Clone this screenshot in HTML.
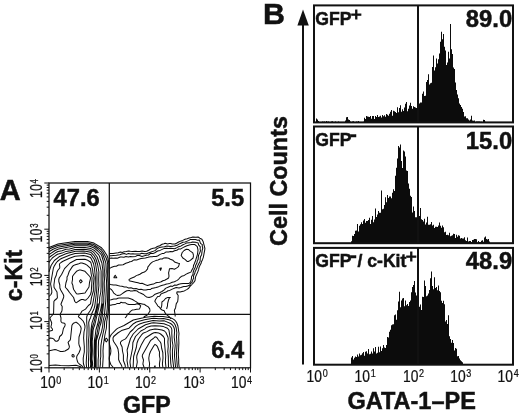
<!DOCTYPE html>
<html lang="en"><head><meta charset="utf-8"><title>Figure</title>
<style>
html,body{margin:0;padding:0;background:#fff;}
svg{display:block;}
text{font-family:"Liberation Sans", Arial, Helvetica, sans-serif;fill:#111;stroke:#111;stroke-width:0.5px;}
.b{font-weight:700;}
.n{font-weight:400;stroke-width:0.25px;}
</style></head>
<body>
<svg width="520" height="413" viewBox="0 0 520 413">
<rect x="0" y="0" width="520" height="413" fill="#ffffff"/>
<g id="panelA">
<path d="M49.0 247.5L58.0 244.1L59.5 243.8L75.0 241.5L87.5 241.5L94.0 243.1L101.5 247.8L103.5 250.0L107.0 255.5L108.0 258.3L108.9 264.0L109.2 283.0L108.6 308.0L108.2 313.0L106.7 321.5L106.4 328.0L104.8 335.5L103.3 346.0L103.0 351.0L103.2 356.5L102.6 367.5M113.3 367.5L110.8 364.5L109.5 361.0L109.2 359.0L109.3 357.0L110.6 353.5L110.9 351.0L110.7 349.0L109.4 344.0L109.3 340.0L109.9 337.0L111.3 334.5L116.0 329.6L117.5 328.4L124.0 325.5L133.3 320.0L145.5 317.2L154.5 316.3L158.5 316.6L163.0 316.5L170.5 317.7L172.5 318.6L174.5 319.9L175.9 321.5L176.8 323.0L177.9 326.0L179.0 333.5L178.7 337.0L178.9 343.0L178.3 354.5L178.7 359.5L178.7 363.5L179.2 367.5M49.0 249.2L52.0 247.8L58.0 245.6L59.5 245.3L75.0 242.9L87.5 242.9L94.0 244.6L100.5 249.1L101.5 250.0L103.0 252.0L106.2 258.0L107.3 261.5L107.7 264.5L107.6 275.5L108.0 283.0L107.3 308.0L106.5 315.3L104.7 321.5L104.3 327.5L101.8 339.5L100.9 345.5L100.7 351.5L100.8 356.5L100.3 360.0L100.4 364.0L100.0 367.5M122.1 367.5L121.6 365.5L119.6 362.0L118.6 359.5L118.7 354.0L118.0 349.0L116.9 346.5L113.6 341.5L113.1 340.0L113.0 338.0L113.7 336.5L117.8 333.0L121.5 330.6L129.0 328.2L133.5 323.7L136.3 322.0L144.5 319.7L151.5 318.4L153.5 318.3L159.0 318.7L163.5 318.5L169.0 319.8L171.0 320.6L172.5 321.6L174.0 323.1L175.2 325.0L176.2 328.0L176.8 332.5L176.5 337.0L177.0 344.5L176.4 355.0L177.4 367.5M49.0 251.7L53.0 249.3L59.0 246.9L75.0 244.3L87.0 244.3L91.0 245.1L94.6 246.5L98.0 249.0L101.5 252.4L103.0 255.0L105.4 261.5L105.9 263.5L106.3 271.5L106.0 275.5L106.5 280.5L106.3 289.0L105.7 301.5L104.3 316.0L103.2 320.5L102.6 326.5L101.5 331.9L98.6 340.5L98.3 347.0L98.5 356.0L98.1 360.0L98.1 367.5M125.4 367.5L125.1 365.0L123.4 360.5L123.4 355.0L122.5 351.0L122.1 347.0L120.4 343.5L120.6 342.0L122.0 340.6L125.5 338.9L127.5 336.3L130.2 332.0L133.0 329.5L135.5 326.7L137.5 325.1L139.6 324.0L144.0 322.5L153.0 320.4L159.5 321.0L163.5 320.8L165.0 321.1L170.7 323.5L172.5 325.1L173.7 327.0L174.4 329.0L174.6 331.0L174.2 337.0L175.2 345.5L174.6 351.5L174.5 356.0L175.6 367.5M49.0 254.6L55.1 250.5L58.5 249.0L75.0 245.8L85.0 245.7L87.0 245.8L90.5 246.6L94.0 247.9L97.8 251.0L100.7 254.0L101.7 255.5L103.7 262.5L104.4 270.5L104.2 275.0L104.5 279.5L104.2 283.5L104.4 289.5L103.8 297.0L103.8 301.5L102.2 316.5L101.1 322.5L99.8 326.5L98.5 333.5L96.4 340.5L96.1 353.0L96.2 367.5M128.1 367.5L127.0 360.5L127.6 354.5L127.1 350.0L130.5 338.5L133.2 334.0L138.1 329.0L145.5 324.7L151.5 323.1L153.5 322.8L164.0 323.7L169.5 325.9L170.5 326.8L171.4 328.0L171.9 330.0L171.8 333.5L172.2 341.0L173.0 345.5L172.4 351.0L172.5 358.0L173.7 367.5M49.0 257.5L55.5 252.8L58.0 251.5L62.0 250.7L66.0 249.3L69.5 248.9L75.0 247.5L76.5 247.5L85.0 247.5L91.0 248.6L93.5 249.9L95.0 251.0L98.5 254.6L99.6 256.5L100.3 259.0L101.9 263.0L102.9 270.5L102.7 291.0L102.0 297.5L102.0 302.0L101.1 307.5L98.7 318.5L98.2 322.0L95.9 330.0L95.2 336.0L94.4 340.0L94.0 354.5L94.5 363.5L94.1 367.5M130.7 367.5L130.0 362.5L130.1 360.5L132.6 348.0L132.9 342.5L135.5 336.5L140.8 331.0L144.5 329.1L147.0 327.2L151.0 326.0L155.0 325.7L160.0 325.9L163.5 326.6L167.5 328.3L168.9 330.0L170.2 338.0L170.5 346.5L170.1 351.5L170.8 363.5L171.4 367.5M49.0 262.6L50.2 260.5L52.3 258.0L54.0 256.6L57.5 254.3L62.0 253.1L66.0 251.4L70.5 250.7L75.0 249.4L84.5 249.3L90.5 250.3L92.5 251.4L94.0 252.7L97.2 257.0L99.6 264.0L101.1 271.0L101.1 287.0L100.8 292.0L99.7 297.5L99.6 301.5L98.9 307.0L94.9 324.5L93.5 328.3L93.0 331.0L92.8 336.0L92.2 341.5L92.4 350.5L92.0 359.0L92.7 363.5L92.1 367.5M133.1 367.5L133.6 356.5L136.3 347.5L137.0 343.0L138.3 339.5L142.0 334.3L143.0 333.3L146.5 331.9L150.0 330.0L155.0 329.1L157.5 329.3L162.0 330.1L164.5 331.0L165.9 332.5L167.9 337.0L168.2 338.5L167.9 342.0L168.2 346.5L167.8 351.5L168.3 356.5L168.5 367.5M49.0 271.8L51.1 265.5L54.4 260.5L59.0 256.8L65.3 254.0L67.5 253.3L75.5 251.2L83.5 251.0L87.0 251.4L90.5 252.2L91.5 252.9L94.3 256.0L95.9 259.0L97.6 264.5L98.9 272.0L98.7 279.5L98.9 285.5L96.8 306.5L94.5 315.5L92.0 322.9L91.1 329.0L90.4 341.0L90.7 350.5L90.3 359.5L90.7 364.0L90.4 367.5M136.3 367.5L137.3 362.0L136.7 357.5L136.9 355.5L137.6 353.5L141.5 344.4L144.3 339.5L145.5 338.0L152.3 333.5L154.0 332.7L155.5 332.5L158.5 332.9L160.6 334.0L163.4 336.5L164.5 338.5L164.5 343.0L165.7 356.0L165.4 362.0L166.0 367.5M49.0 296.5L51.0 294.5L51.8 292.5L51.8 290.5L50.6 284.0L53.4 268.0L54.0 266.6L56.1 263.0L57.3 261.5L60.0 259.3L62.0 258.2L70.0 255.0L75.0 253.5L84.5 253.0L90.5 254.5L91.0 254.9L94.2 259.5L95.6 264.0L96.9 272.5L97.0 284.0L96.6 291.5L94.8 306.0L94.0 308.7L92.0 313.0L90.5 317.9L89.4 320.0L88.7 322.5L89.0 327.5L89.0 335.0L88.6 340.0L88.9 350.5L88.4 362.0L88.6 367.5M144.1 367.5L142.9 364.0L143.5 360.0L142.3 356.5L142.4 355.0L150.0 341.4L151.0 340.2L153.3 338.5L155.0 336.8L156.0 337.0L157.0 337.7L158.5 340.0L160.3 342.0L161.0 343.5L161.7 348.5L162.8 352.5L163.0 358.0L162.4 364.0L162.9 367.5M49.0 331.4L50.0 330.9L52.0 330.6L52.6 330.0L52.4 329.0L50.9 327.0L51.7 323.5L51.6 322.5L49.9 318.5L50.2 317.5L53.0 314.5L53.6 313.0L53.9 301.5L54.5 300.5L56.9 298.5L57.4 297.5L57.0 292.0L54.1 287.5L53.9 285.0L54.8 278.5L56.2 275.5L57.0 271.9L57.7 270.5L59.7 268.0L59.8 267.0L59.4 264.0L61.0 262.5L63.0 261.3L69.5 258.2L75.0 256.3L83.5 255.5L87.0 256.3L90.5 257.6L91.4 259.0L93.5 263.5L94.5 268.5L95.4 277.5L95.1 290.5L92.6 305.0L90.5 310.2L87.5 314.5L86.7 317.0L86.7 322.5L87.1 327.0L86.7 339.0L86.9 351.0L86.2 363.0L86.6 367.5M149.2 367.5L149.6 363.5L149.0 360.5L148.8 358.0L149.4 354.5L150.5 351.5L154.0 345.5L155.0 344.4L156.5 345.4L157.5 346.7L159.5 352.0L159.4 355.5L160.1 359.0L159.4 364.0L159.7 367.5M49.0 338.6L50.5 338.1L53.0 338.6L54.0 339.2L55.0 340.7L56.0 341.3L57.0 341.2L58.2 340.5L58.9 339.5L59.7 336.5L61.5 335.0L62.4 333.5L63.4 328.5L64.9 326.0L65.1 325.0L65.1 324.0L64.5 323.2L62.0 322.7L61.3 322.0L60.9 321.0L61.0 318.0L60.2 315.0L60.3 314.0L61.9 311.0L62.1 309.5L62.2 306.5L61.0 304.5L61.0 304.0L63.6 297.5L63.8 296.0L63.3 294.5L60.7 290.0L59.9 288.0L59.8 285.0L58.8 281.5L58.8 279.5L59.2 278.0L61.6 274.5L64.5 268.6L70.0 263.0L76.5 259.5L85.0 259.3L87.0 259.9L90.5 262.0L91.0 263.0L92.6 269.5L93.0 273.5L93.9 277.0L94.0 278.5L93.3 286.0L93.4 291.0L91.5 297.3L90.5 303.9L88.4 305.5L85.5 309.1L82.0 311.1L80.5 313.8L78.5 316.0L78.4 316.5L79.1 317.5L80.5 318.4L83.1 321.0L84.0 322.7L85.0 326.0L84.9 328.0L84.0 332.0L83.6 338.0L84.3 346.5L84.3 352.0L83.3 357.5L83.2 359.5L83.4 363.5L84.6 367.5M154.1 367.5L155.0 365.8L155.4 367.5M76.5 302.7L76.0 302.7L74.8 301.5L73.6 297.5L69.5 292.5L67.5 289.6L65.6 287.5L65.3 287.0L65.9 283.0L67.0 279.5L67.0 277.0L68.0 275.2L69.2 271.5L72.5 266.4L73.5 265.5L74.5 265.1L78.0 264.1L80.5 263.0L82.0 263.0L85.0 264.0L87.0 265.1L90.5 268.4L91.2 274.0L92.1 278.0L91.3 291.5L90.5 294.5L88.0 298.0L86.0 300.0L85.0 300.3L83.0 299.6L81.5 299.5L80.3 300.0L76.5 302.7M49.0 351.0L50.5 350.4L55.0 349.6L57.0 350.1L60.5 351.5L62.5 351.5L65.0 351.0L68.4 349.0L69.1 348.0L69.4 346.5L68.1 342.5L68.5 341.7L70.0 340.4L70.5 339.0L71.9 325.5L72.5 324.3L73.5 323.2L76.0 322.1L78.0 323.5L79.5 325.0L80.6 326.5L81.2 328.5L80.5 332.3L79.0 337.0L78.8 343.5L79.2 345.5L80.3 348.0L80.3 349.5L79.0 352.8L76.9 356.0L76.6 358.0L77.3 361.0L77.9 362.5L79.3 364.0L82.0 365.9L83.0 367.5M73.9 357.0L74.2 356.5L74.0 355.3L73.5 354.7L72.5 354.5L72.0 355.0L72.0 356.2L73.0 357.1L73.9 357.0M78.0 294.0L76.5 293.8L73.7 289.5L73.0 287.0L72.9 285.5L71.9 283.0L72.5 279.5L72.5 276.5L73.4 275.0L76.5 271.3L79.0 270.1L80.5 269.9L85.0 271.3L89.8 276.5L90.4 277.5L90.5 278.7L89.5 282.5L89.0 287.0L85.0 293.0L78.0 294.0M49.0 365.6L55.5 365.0L60.5 365.6L68.5 365.7L76.0 365.2L80.0 366.4L81.3 367.5M102.6 303.5L101.4 313.0L99.9 321.5L98.5 325.5L96.7 335.5L95.4 340.5L95.1 353.5L95.3 363.0L95.2 367.5M98.2 303.5L97.7 307.0L94.0 322.3L92.5 327.0L92.0 330.0L91.3 341.5L91.6 350.5L91.2 359.5L91.7 364.0L91.3 367.5M109.3 253.5L111.2 253.5L113.1 253.4L116.2 253.0L118.2 252.8L120.6 252.0L122.2 252.4L124.1 251.8L126.3 251.6L128.6 251.0L130.3 251.2L132.7 251.4L135.4 251.3L137.8 251.4L139.8 251.5L142.1 251.1L144.6 251.4L146.7 251.2L148.7 250.3L150.8 249.0L153.1 248.3L155.0 248.1L157.3 246.5L159.7 245.7L162.1 244.2L164.0 243.7L165.2 243.2L167.6 243.9L169.4 243.6L170.7 243.6L172.1 244.0L175.0 244.0L176.5 243.3L178.7 242.0L181.2 240.9L182.8 240.4L185.0 239.3L187.2 238.7L189.1 238.0L191.3 237.6L192.9 237.1L195.9 237.3L198.1 237.0L199.8 238.2L201.9 239.2L203.1 241.5L203.6 243.3L204.2 245.6L204.9 248.4L204.7 250.1L204.2 252.7L203.8 254.8L203.3 257.3L202.5 259.7L201.6 261.4L201.0 263.6L199.9 265.5L198.9 267.9L198.7 269.4L197.7 272.1L196.8 274.1L195.8 276.2L195.4 278.0L195.0 280.6L193.9 282.3L192.3 284.0L191.5 285.0L190.0 286.4L188.7 288.3L186.7 289.6L184.3 290.9L182.0 291.4L180.1 291.9L178.0 291.7L176.9 292.0L176.8 293.4L178.2 295.5L178.1 296.5L178.0 298.9L177.7 301.5L176.3 303.6L176.0 305.2L175.6 307.7L174.4 310.3L174.7 312.3L175.1 314.6L175.2 316.5M109.3 255.7L111.1 255.7L113.3 255.4L116.5 255.3L118.1 254.9L119.8 254.7L121.7 254.1L124.4 253.5L126.4 254.4L128.4 253.5L130.6 254.1L132.9 253.8L134.6 253.9L137.4 254.1L140.1 253.9L141.7 253.3L144.2 253.7L146.4 253.7L149.0 252.8L151.2 252.0L152.5 251.6L155.4 250.4L157.1 248.5L159.3 247.6L162.3 247.1L164.4 246.8L166.9 246.1L168.9 246.2L170.5 246.5L172.7 246.2L174.4 246.1L177.1 245.3L178.9 244.1L180.9 243.2L182.9 242.3L185.1 242.0L186.7 241.4L188.9 240.4L190.5 239.4L193.2 239.5L195.6 239.5L197.6 240.2L199.4 240.1L200.5 243.3L202.3 244.6L202.2 246.1L202.8 248.0L202.1 250.6L201.9 252.7L201.6 254.7L200.4 257.1L200.2 259.3L200.1 261.3L198.9 263.4L197.9 265.4L196.9 268.0L196.0 270.1L195.1 271.7L194.8 273.3L193.5 276.1L193.7 278.3L192.9 279.6L192.0 282.3L190.2 283.8L190.0 285.1L187.7 285.9L185.9 286.6L183.7 286.6L180.8 287.5L179.0 287.9L176.2 287.6L174.9 288.0L172.2 289.1L169.8 290.4L168.0 290.8L166.0 292.1L163.3 293.0L161.1 293.9L159.6 296.2L157.7 296.5L155.7 299.2L154.8 301.2L155.4 302.3L156.8 304.3L157.9 306.1L159.3 307.0L160.8 309.1L162.1 310.0L164.2 310.8L164.8 312.4L166.0 314.2L167.7 315.6L169.1 316.5L171.0 319.0M109.3 258.5L111.3 258.0L113.3 258.3L116.0 258.1L117.3 258.2L120.3 257.0L121.7 257.0L123.9 257.3L125.9 256.6L128.4 257.1L130.3 256.6L132.4 256.7L135.7 256.4L137.2 255.5L139.4 255.4L142.0 256.4L144.4 255.8L146.2 255.2L148.5 255.0L150.6 253.4L152.9 253.6L154.8 252.7L157.6 251.0L160.0 250.4L161.7 249.6L163.8 248.6L166.4 248.3L168.6 248.5L170.5 248.3L172.9 248.6L174.7 248.8L176.9 247.6L178.5 246.8L181.1 245.9L183.0 244.7L184.4 244.1L186.5 243.1L189.2 242.7L191.1 242.4L192.5 242.0L195.5 242.2L196.3 242.5L198.2 243.1L198.6 244.9L200.3 246.9L200.1 249.0L200.5 250.8L199.6 253.0L198.6 255.1L198.3 257.1L198.2 259.3L197.2 261.4L196.9 263.1L195.6 265.6L195.2 267.5L193.9 269.9L193.1 272.5L192.9 274.5L191.6 276.5L191.4 278.6L190.8 281.5L189.7 282.9L188.4 283.6L185.6 283.6L183.1 283.6L180.9 283.8L178.8 284.2L176.6 285.3L174.7 285.0L172.4 286.4L170.9 286.0L168.6 287.0L165.4 288.4L164.6 289.6L161.9 291.5L159.9 292.5L157.7 293.2L155.1 294.2L153.1 295.9L151.5 296.7L149.1 297.6L146.5 296.9L145.1 295.9L143.6 294.5L140.9 293.3L138.8 292.4L137.2 291.1L134.8 290.4L132.3 291.1L130.4 291.1L129.3 290.4L126.8 290.8L124.6 292.0L122.3 293.7L120.5 294.9L117.6 295.5L116.1 294.9L113.8 293.2L112.6 291.0L111.2 289.4L109.3 288.3M109.3 268.5L111.1 267.6L113.7 266.6L114.8 266.3L116.3 266.2L118.5 265.0L120.8 265.0L123.1 264.7L125.8 263.3L128.3 262.6L129.7 261.8L131.6 261.5L133.1 260.4L134.0 259.8L136.6 259.9L139.3 259.1L141.1 258.6L143.0 258.2L145.4 257.9L148.0 257.3L150.3 256.7L152.1 256.7L153.5 256.5L156.2 256.5L158.0 255.7L160.2 254.4L162.0 253.6L164.0 253.4L166.1 251.9L168.6 252.1L170.7 251.4L172.5 251.8L174.5 250.7L176.8 250.3L178.5 249.0L180.8 248.9L183.4 247.4L185.2 246.5L186.9 245.8L190.2 244.8L191.9 244.5L194.4 244.5L195.2 244.8L197.3 246.6L198.0 250.1L197.7 252.8L197.3 254.9L196.7 256.8L195.9 259.5L195.4 261.0L194.3 263.7L193.5 265.5L193.3 267.4L191.9 270.1L190.9 272.1L188.0 273.3L186.2 274.1L184.3 275.4L181.6 276.3L180.0 277.5L178.6 279.3L176.7 280.6L174.4 281.7L172.2 282.3L169.8 283.4L167.9 283.8L165.7 284.2L164.5 284.7L162.4 285.3L160.2 285.9L157.9 287.1L156.0 287.6L154.0 288.0L151.4 288.6L150.5 289.5L148.0 289.5L146.0 289.9L143.6 290.0L141.1 289.3L138.8 289.5L136.1 288.6L133.6 288.8L131.0 287.8L128.6 288.0L126.7 287.1L124.3 287.0L122.0 286.3L119.7 286.0L117.8 285.6L115.9 285.0L113.5 284.9L110.4 284.4L109.3 284.0M128.8 280.3L129.2 279.4L131.2 278.3L134.3 277.1L135.9 275.9L138.1 274.9L139.9 274.2L142.2 272.7L144.4 272.0L145.7 271.1L147.6 268.9L147.8 267.1L149.6 264.7L151.3 262.9L152.6 261.9L155.8 260.6L158.0 259.9L160.2 259.1L162.2 259.0L163.6 258.1L166.0 257.7L168.6 258.3L170.3 259.2L173.0 260.3L175.1 262.3L178.3 263.2L179.5 263.4L178.5 266.7L176.4 268.1L174.4 269.2L172.1 268.6L169.5 268.7L169.2 270.3L168.6 272.9L169.0 276.1L168.6 278.0L166.9 279.0L164.7 280.2L162.9 280.7L161.2 281.8L159.5 282.3L157.0 282.5L155.3 283.1L153.5 284.1L152.0 284.3L149.9 284.7L147.4 285.5L146.2 285.1L144.3 284.2L142.1 283.3L140.2 283.4L138.1 282.8L135.4 282.2L132.3 281.5L129.9 281.1L128.8 280.3M193.5 255.4L193.1 258.0L190.3 260.4L188.3 261.5L187.1 261.4L185.0 259.4L182.8 258.0L181.2 255.4L182.2 252.5L184.1 250.5L186.3 249.3L188.6 249.6L190.0 250.8L192.8 252.8L193.5 255.4M109.3 300.0L111.2 299.7L113.8 298.9L116.3 298.9L117.9 298.3L119.4 298.1L122.2 298.1L124.2 297.9L126.2 297.9L128.2 298.1L130.5 298.8L132.5 299.5L134.7 300.9L136.4 301.9L138.3 303.3L140.1 303.4L143.2 304.3L144.4 304.3L145.9 305.5L148.3 306.9L149.7 308.9L150.0 311.0L148.1 314.1L147.0 315.2L144.5 316.4L143.5 317.5M109.3 305.0L110.7 305.3L112.5 304.7L115.0 304.6L116.9 303.6L119.6 303.6L121.0 302.2L122.5 302.7L125.2 302.7L127.3 304.1L128.9 304.6L131.0 304.5L133.2 304.4L135.0 304.5L136.9 303.8L139.3 304.4L140.7 305.8L140.1 307.5L139.5 308.9L136.7 309.3L134.4 309.8L132.2 310.1L130.1 311.6L129.6 312.8L127.5 314.2L126.5 316.3L125.0 318.0M160.5 309.0L161.5 306.9L161.8 305.0L161.9 302.0L163.7 300.7L165.5 298.5L167.9 297.4L170.4 297.4L169.3 298.0L168.4 300.5L167.6 303.6L167.5 305.9L167.0 307.5L166.6 309.0M113.6 277.8L115.2 275.2L116.8 277.8L113.6 277.8M159.6 268.2L160.6 270.4L161.4 268.0L159.6 268.2M104.8 340.0L106.3 338.2L107.9 340.0L106.3 341.9L104.8 340.0M79.3 281.3L80.7 279.7L82.2 281.3L80.7 283.0L79.3 281.3" fill="none" stroke="#0a0a0a" stroke-width="1.02" stroke-linejoin="round"/>
<text transform="translate(-0.20,199.90)" font-size="29.00" text-anchor="start" class="b">A</text>
<text transform="translate(22.30,301.20) rotate(-90)" font-size="23.20" text-anchor="start" class="b">c-Kit</text>
<text transform="translate(123.00,412.90)" font-size="23.20" text-anchor="start" class="b">GFP</text>
<rect x="49.0" y="183.0" width="201.5" height="184.8" fill="none" stroke="#111" stroke-width="1.25"/>
<path d="M109.3 183.0V367.8 M49.0 314.3H250.5" stroke="#111" stroke-width="1.25" fill="none"/>
<path d="M49.00 367.8v4.7M49.0 367.80h-4.7M64.16 367.8v2.3M49.0 353.89h-2.3M73.03 367.8v2.3M49.0 345.76h-2.3M79.33 367.8v2.3M49.0 339.98h-2.3M84.21 367.8v2.3M49.0 335.51h-2.3M88.20 367.8v2.3M49.0 331.85h-2.3M91.57 367.8v2.3M49.0 328.76h-2.3M94.49 367.8v2.3M49.0 326.08h-2.3M97.07 367.8v2.3M49.0 323.71h-2.3M99.38 367.8v4.7M49.0 321.60h-4.7M114.54 367.8v2.3M49.0 307.69h-2.3M123.41 367.8v2.3M49.0 299.56h-2.3M129.70 367.8v2.3M49.0 293.78h-2.3M134.59 367.8v2.3M49.0 289.31h-2.3M138.57 367.8v2.3M49.0 285.65h-2.3M141.95 367.8v2.3M49.0 282.56h-2.3M144.87 367.8v2.3M49.0 279.88h-2.3M147.44 367.8v2.3M49.0 277.51h-2.3M149.75 367.8v4.7M49.0 275.40h-4.7M164.91 367.8v2.3M49.0 261.49h-2.3M173.78 367.8v2.3M49.0 253.36h-2.3M180.08 367.8v2.3M49.0 247.58h-2.3M184.96 367.8v2.3M49.0 243.11h-2.3M188.95 367.8v2.3M49.0 239.45h-2.3M192.32 367.8v2.3M49.0 236.36h-2.3M195.24 367.8v2.3M49.0 233.68h-2.3M197.82 367.8v2.3M49.0 231.31h-2.3M200.12 367.8v4.7M49.0 229.20h-4.7M215.29 367.8v2.3M49.0 215.29h-2.3M224.16 367.8v2.3M49.0 207.16h-2.3M230.45 367.8v2.3M49.0 201.38h-2.3M235.34 367.8v2.3M49.0 196.91h-2.3M239.32 367.8v2.3M49.0 193.25h-2.3M242.70 367.8v2.3M49.0 190.16h-2.3M245.62 367.8v2.3M49.0 187.48h-2.3M248.19 367.8v2.3M49.0 185.11h-2.3M250.50 367.8v4.7M49.0 183.00h-4.7" stroke="#111" stroke-width="1" fill="none"/>
<text transform="translate(40.20,388.00) scale(0.850,1)" font-size="16.30" text-anchor="start" class="n">10<tspan font-size="10.6" dx="0.8" dy="-4.4">0</tspan></text>
<text transform="translate(87.60,388.00) scale(0.850,1)" font-size="16.30" text-anchor="start" class="n">10<tspan font-size="10.6" dx="0.8" dy="-4.4">1</tspan></text>
<text transform="translate(135.00,388.00) scale(0.850,1)" font-size="16.30" text-anchor="start" class="n">10<tspan font-size="10.6" dx="0.8" dy="-4.4">2</tspan></text>
<text transform="translate(183.40,388.00) scale(0.850,1)" font-size="16.30" text-anchor="start" class="n">10<tspan font-size="10.6" dx="0.8" dy="-4.4">3</tspan></text>
<text transform="translate(231.00,388.00) scale(0.850,1)" font-size="16.30" text-anchor="start" class="n">10<tspan font-size="10.6" dx="0.8" dy="-4.4">4</tspan></text>
<text transform="translate(42.00,373.00) rotate(-90) scale(0.740,1)" font-size="17.00" text-anchor="start" class="n">10<tspan font-size="10.6" dx="0.8" dy="-4.4">0</tspan></text>
<text transform="translate(42.00,330.00) rotate(-90) scale(0.740,1)" font-size="17.00" text-anchor="start" class="n">10<tspan font-size="10.6" dx="0.8" dy="-4.4">1</tspan></text>
<text transform="translate(42.00,286.30) rotate(-90) scale(0.740,1)" font-size="17.00" text-anchor="start" class="n">10<tspan font-size="10.6" dx="0.8" dy="-4.4">2</tspan></text>
<text transform="translate(42.00,242.40) rotate(-90) scale(0.740,1)" font-size="17.00" text-anchor="start" class="n">10<tspan font-size="10.6" dx="0.8" dy="-4.4">3</tspan></text>
<text transform="translate(42.00,198.00) rotate(-90) scale(0.740,1)" font-size="17.00" text-anchor="start" class="n">10<tspan font-size="10.6" dx="0.8" dy="-4.4">4</tspan></text>
<text transform="translate(53.60,205.90)" font-size="23.70" text-anchor="start" class="b">47.6</text>
<text transform="translate(211.20,205.90)" font-size="23.70" text-anchor="start" class="b">5.5</text>
<text transform="translate(211.20,358.40)" font-size="23.70" text-anchor="start" class="b">6.4</text>
</g>
<g id="panelB">
<text transform="translate(263.10,24.40)" font-size="30.40" text-anchor="start" class="b">B</text>
<text transform="translate(287.00,246.00) rotate(-90)" font-size="23.40" text-anchor="start" class="b">Cell Counts</text>
<text transform="translate(347.40,409.30)" font-size="23.50" text-anchor="start" class="b">GATA-1–PE</text>
<path d="M303 364.6V22" stroke="#111" stroke-width="2" fill="none"/>
<path d="M303 9.5L308.8 25.5H297.4Z" fill="#111"/>
<path d="M316.00 122.4V118.4h1.00V119.6h1.00V121.1h1.00V122.0h1.00V121.9h1.00V122.0h1.00V121.5h1.00V121.8h1.00V121.4h1.00V122.4M326.00 122.4V120.9h1.00V121.8h1.00V121.4h1.00V121.9h1.00V121.9h1.00V121.5h1.00V121.3h1.00V121.9h1.00V121.9h1.00V121.4h1.00V122.1h1.00V122.4h1.00V121.6h1.00V122.1h1.00V122.4M341.00 122.4V122.1h1.00V122.0h1.00V122.3h1.00V122.4h1.00V120.5h1.00V117.3h1.00V117.1h1.00V119.4h1.00V120.1h1.00V121.4h1.00V121.9h1.00V121.5h1.00V121.2h1.00V121.9h1.00V122.1h1.00V121.6h1.00V121.7h1.00V121.1h1.00V122.3h1.00V122.1h1.00V122.1h1.00V122.4M363.00 122.4V121.7h1.00V117.7h1.00V119.0h1.00V115.9h1.00V116.6h1.00V116.8h1.00V117.0h1.00V115.9h1.00V118.8h1.00V116.1h1.00V116.0h1.00V119.0h1.00V116.1h1.00V116.9h1.00V115.0h1.00V117.0h1.00V116.4h1.00V115.7h1.00V117.4h1.00V115.1h1.00V116.3h1.00V115.2h1.00V116.7h1.00V113.9h1.00V114.8h1.00V115.7h1.00V113.7h1.00V111.8h1.00V110.0h1.00V115.8h1.00V110.8h1.00V111.2h1.00V111.9h1.00V112.9h1.00V107.3h1.00V112.3h1.00V108.0h1.00V105.3h1.00V111.8h1.00V109.2h1.00V110.9h1.00V107.6h1.00V103.7h1.00V102.0h1.00V111.2h1.00V108.8h1.00V105.5h1.00V102.7h1.00V106.0h1.00V108.7h1.00V106.3h1.00V107.1h1.00V107.4h1.00V107.9h1.00V104.2h1.00V103.5h1.00V103.5h1.00V102.5h1.00V102.5h1.00V93.8h1.00V91.5h1.00V96.0h1.00V95.7h1.00V81.9h1.00V80.0h1.00V74.3h1.00V84.6h1.00V83.3h1.00V82.7h1.00V66.9h1.00V55.6h1.00V70.5h1.00V67.2h1.00V58.4h1.00V63.4h1.00V59.3h1.00V53.4h1.00V41.7h1.00V31.7h1.00V39.3h1.00V34.0h1.00V46.8h1.00V50.5h1.00V65.0h1.00V62.6h1.00V51.7h1.00V58.5h1.00V24.0h1.00V49.2h1.00V54.0h1.00V67.5h1.00V68.9h1.00V82.6h1.00V90.1h1.00V94.5h1.00V98.2h1.00V103.4h1.00V105.0h1.00V107.1h1.00V108.8h1.00V112.0h1.00V116.4h1.00V116.2h1.00V118.3h1.00V118.2h1.00V119.4h1.00V120.4h1.00V119.6h1.00V115.7h1.00V120.4h1.00V120.7h1.00V120.5h1.00V122.1h1.00V121.6h1.00V121.5h1.00V121.5h1.00V121.5h1.00V121.7h1.00V121.7h1.00V122.4h1.00V119.8h1.00V120.0h1.00V121.7h1.00V122.4" fill="#0c0c0c"/>
<path d="M351.00 243.2V241.3h1.00V235.8h1.00V235.9h1.00V233.9h1.00V230.8h1.00V230.6h1.00V224.0h1.00V231.4h1.00V225.7h1.00V224.2h1.00V222.3h1.00V224.1h1.00V220.4h1.00V218.9h1.00V222.7h1.00V221.0h1.00V221.0h1.00V220.0h1.00V217.8h1.00V224.0h1.00V219.7h1.00V216.0h1.00V222.2h1.00V219.6h1.00V208.5h1.00V217.0h1.00V214.6h1.00V210.9h1.00V212.7h1.00V212.7h1.00V190.5h1.00V209.3h1.00V208.7h1.00V205.1h1.00V197.3h1.00V202.3h1.00V194.9h1.00V198.1h1.00V196.4h1.00V196.5h1.00V198.3h1.00V192.7h1.00V189.3h1.00V191.1h1.00V175.7h1.00V167.7h1.00V158.4h1.00V146.0h1.00V147.5h1.00V144.6h1.00V161.0h1.00V168.0h1.00V150.5h1.00V151.5h1.00V156.6h1.00V170.4h1.00V170.9h1.00V183.4h1.00V188.8h1.00V195.7h1.00V197.0h1.00V212.6h1.00V206.6h1.00V211.0h1.00V217.2h1.00V217.3h1.00V219.4h1.00V218.8h1.00V216.1h1.00V208.0h1.00V219.2h1.00V219.9h1.00V221.5h1.00V218.7h1.00V224.5h1.00V222.4h1.00V216.8h1.00V224.7h1.00V224.8h1.00V224.2h1.00V222.0h1.00V225.4h1.00V224.7h1.00V228.1h1.00V226.7h1.00V226.7h1.00V227.1h1.00V225.6h1.00V222.5h1.00V225.7h1.00V227.8h1.00V225.6h1.00V227.3h1.00V232.2h1.00V231.7h1.00V234.9h1.00V234.7h1.00V235.2h1.00V232.7h1.00V236.2h1.00V235.8h1.00V235.3h1.00V233.8h1.00V233.9h1.00V237.9h1.00V234.7h1.00V236.7h1.00V235.3h1.00V235.8h1.00V238.5h1.00V238.0h1.00V238.6h1.00V238.4h1.00V237.3h1.00V240.3h1.00V241.1h1.00V237.5h1.00V241.5h1.00V240.9h1.00V241.0h1.00V241.9h1.00V240.1h1.00V239.8h1.00V239.1h1.00V238.9h1.00V239.2h1.00V242.4h1.00V240.9h1.00V242.1h1.00V241.9h1.00V240.8h1.00V240.2h1.00V241.8h1.00V237.6h1.00V236.6h1.00V239.0h1.00V239.4h1.00V239.0h1.00V241.5h1.00V243.2" fill="#0c0c0c"/>
<path d="M351.00 364.7V357.4h1.00V356.0h1.00V359.4h1.00V357.8h1.00V356.5h1.00V356.9h1.00V354.4h1.00V356.5h1.00V353.4h1.00V355.2h1.00V354.7h1.00V353.3h1.00V352.0h1.00V355.7h1.00V351.8h1.00V351.3h1.00V353.6h1.00V349.1h1.00V354.3h1.00V353.7h1.00V351.5h1.00V353.5h1.00V348.3h1.00V351.4h1.00V346.9h1.00V353.4h1.00V352.8h1.00V346.8h1.00V352.2h1.00V346.6h1.00V351.0h1.00V348.2h1.00V345.0h1.00V347.5h1.00V348.1h1.00V345.1h1.00V336.9h1.00V337.6h1.00V331.7h1.00V329.8h1.00V325.2h1.00V324.4h1.00V324.3h1.00V315.3h1.00V314.4h1.00V319.8h1.00V310.2h1.00V301.4h1.00V291.8h1.00V307.2h1.00V300.6h1.00V298.6h1.00V298.1h1.00V306.2h1.00V300.5h1.00V305.3h1.00V304.0h1.00V305.9h1.00V302.1h1.00V300.6h1.00V292.2h1.00V287.0h1.00V285.1h1.00V280.9h1.00V292.5h1.00V295.5h1.00V295.0h1.00V298.9h1.00V306.8h1.00V304.4h1.00V310.0h1.00V296.8h1.00V297.0h1.00V280.5h1.00V286.0h1.00V296.3h1.00V295.5h1.00V293.6h1.00V290.0h1.00V278.3h1.00V271.5h1.00V285.9h1.00V289.3h1.00V277.3h1.00V288.1h1.00V286.9h1.00V290.2h1.00V285.5h1.00V291.1h1.00V292.3h1.00V300.7h1.00V303.1h1.00V300.8h1.00V304.2h1.00V321.6h1.00V320.1h1.00V324.1h1.00V315.2h1.00V336.2h1.00V339.0h1.00V342.7h1.00V340.1h1.00V343.1h1.00V350.6h1.00V347.9h1.00V348.7h1.00V356.3h1.00V355.9h1.00V358.6h1.00V360.2h1.00V361.2h1.00V362.3h1.00V364.2h1.00V364.7" fill="#0c0c0c"/>
<rect x="314" y="5.4" width="199" height="117.0" fill="none" stroke="#111" stroke-width="2"/>
<path d="M418 5.4V122.4" stroke="#111" stroke-width="2" fill="none"/>
<rect x="314" y="126.5" width="199" height="116.7" fill="none" stroke="#111" stroke-width="2"/>
<path d="M418 126.5V243.2" stroke="#111" stroke-width="2" fill="none"/>
<rect x="314" y="247.9" width="199" height="116.8" fill="none" stroke="#111" stroke-width="2"/>
<path d="M418 247.9V364.7" stroke="#111" stroke-width="2" fill="none"/>
<text transform="translate(315.30,25.20)" font-size="17.60" text-anchor="start" class="b">GFP<tspan class="n" style="stroke-width:0.9px" font-size="19" dx="-0.7" dy="-4.6">+</tspan></text>
<text transform="translate(315.30,146.20)" font-size="17.60" text-anchor="start" class="b">GFP<tspan font-size="20.5" dx="-1.5" dy="-5.4">-</tspan></text>
<text transform="translate(315.30,267.30)" font-size="17.60" text-anchor="start" class="b">GFP<tspan font-size="20.5" dx="-1.5" dy="-5.4">-</tspan><tspan dy="5.4" dx="0.7" font-size="17.6">/ c-Kit</tspan><tspan class="n" style="stroke-width:0.9px" font-size="19" dx="-0.7" dy="-4.6">+</tspan></text>
<text transform="translate(512.20,26.60)" font-size="23.80" text-anchor="end" class="b">89.0</text>
<text transform="translate(512.20,149.10)" font-size="23.80" text-anchor="end" class="b">15.0</text>
<text transform="translate(512.20,269.30)" font-size="23.80" text-anchor="end" class="b">48.9</text>
<text transform="translate(306.60,381.70) scale(0.850,1)" font-size="16.30" text-anchor="start" class="n">10<tspan font-size="10.6" dx="0.8" dy="-4.8">0</tspan></text>
<text transform="translate(354.60,381.70) scale(0.850,1)" font-size="16.30" text-anchor="start" class="n">10<tspan font-size="10.6" dx="0.8" dy="-4.8">1</tspan></text>
<text transform="translate(403.00,381.70) scale(0.850,1)" font-size="16.30" text-anchor="start" class="n">10<tspan font-size="10.6" dx="0.8" dy="-4.8">2</tspan></text>
<text transform="translate(450.30,381.70) scale(0.850,1)" font-size="16.30" text-anchor="start" class="n">10<tspan font-size="10.6" dx="0.8" dy="-4.8">3</tspan></text>
<text transform="translate(497.60,381.70) scale(0.850,1)" font-size="16.30" text-anchor="start" class="n">10<tspan font-size="10.6" dx="0.8" dy="-4.8">4</tspan></text>
</g>
</svg>
</body></html>
